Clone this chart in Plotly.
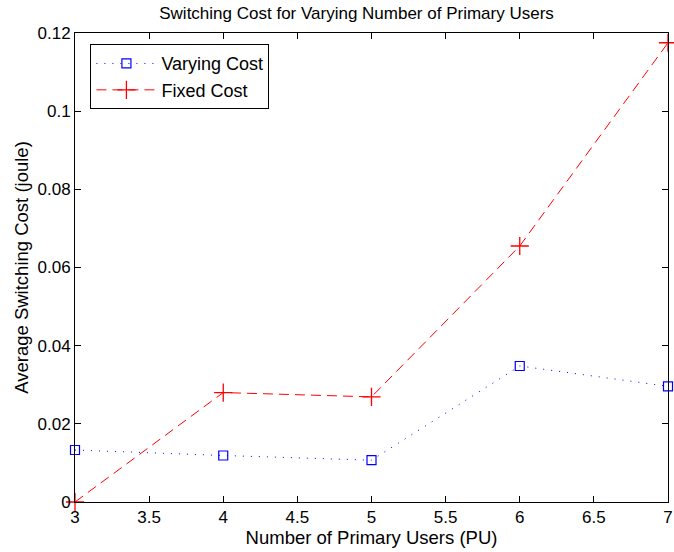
import plotly.graph_objects as go

pu = [3, 4, 5, 6, 7]
varying_cost = [0.0133, 0.0119, 0.0107, 0.0348, 0.0296]
fixed_cost = [0.0, 0.0280, 0.0269, 0.0655, 0.1175]
x_ticks = [3, 3.5, 4, 4.5, 5, 5.5, 6, 6.5, 7]
y_ticks = [0, 0.02, 0.04, 0.06, 0.08, 0.1, 0.12]
y_labels = ["0", "0.02", "0.04", "0.06", "0.08", "0.1", "0.12"]

fig = go.Figure()
fig.add_trace(go.Scatter(
    x=pu, y=varying_cost, name="Varying Cost", mode="lines+markers",
    line=dict(color="blue", width=1, dash="1px,7px"),
    marker=dict(symbol="square-open", size=9, color="blue", line=dict(width=1.2)),
    cliponaxis=False,
))
fig.add_trace(go.Scatter(
    x=pu, y=fixed_cost, name="Fixed Cost", mode="lines+markers",
    line=dict(color="red", width=1, dash="10px,6px"),
    marker=dict(symbol="cross-thin-open", size=13, color="red", line=dict(width=1.3, color="red")),
    cliponaxis=False,
))

fig.update_layout(
    width=674, height=552,
    margin=dict(l=75, r=6, t=33, b=50, autoexpand=False),
    paper_bgcolor="white", plot_bgcolor="white",
    font=dict(family="Liberation Sans, Arial, sans-serif", size=17, color="black"),
    title=dict(text="Switching Cost for Varying Number of Primary Users",
               x=0.529, xanchor="center", y=0.977, yanchor="middle",
               font=dict(size=17)),
    showlegend=True,
    legend=dict(x=0.026, y=0.976, xanchor="left", yanchor="top",
                bordercolor="black", borderwidth=1, bgcolor="white",
                font=dict(size=18), tracegroupgap=0, itemwidth=60),
)
fig.update_xaxes(
    range=[3, 7], tickvals=x_ticks, ticks="inside", ticklen=6, tickcolor="black",
    showline=True, linecolor="black", linewidth=1, mirror="ticks", showgrid=False,
    zeroline=False, tickfont=dict(size=17),
    title=dict(text="Number of Primary Users (PU)", font=dict(size=18.5), standoff=2),
)
fig.update_yaxes(
    range=[0, 0.12], tickvals=y_ticks, ticktext=y_labels, ticks="inside", ticklen=6,
    tickcolor="black", showline=True, linecolor="black", linewidth=1, mirror="ticks",
    showgrid=False, zeroline=False, tickfont=dict(size=17),
    title=dict(text="Average Switching Cost (joule)", font=dict(size=18.5), standoff=4),
)

fig.write_html("out.html", config={"displayModeBar": False},
               post_script="document.body.style.margin='0';document.body.style.overflow='hidden';")
